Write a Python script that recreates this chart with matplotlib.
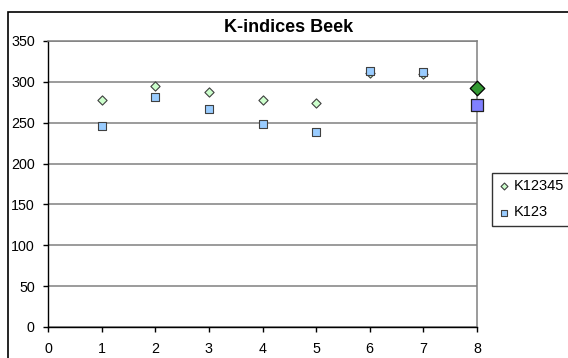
import matplotlib
matplotlib.use("Agg")
import matplotlib.pyplot as plt
from matplotlib.patches import Rectangle

plt.rcParams['font.family'] = ['Liberation Sans', 'DejaVu Sans']

x = [1, 2, 3, 4, 5, 6, 7, 8]
k12345 = [278, 295, 288, 278, 274, 311, 310, 292]
k123 = [246, 282, 267, 249, 239, 313, 312, 272]
yticks = [0, 50, 100, 150, 200, 250, 300, 350]
xticks = [0, 1, 2, 3, 4, 5, 6, 7, 8]

W, H = 568, 358
fig = plt.figure(figsize=(W / 100, H / 100), dpi=100)

# outer chart frame (runs off the right and bottom edges)
fig.patches.append(Rectangle((8 / W, -0.1), 1.2, 1 - 12 / H + 0.1,
                             transform=fig.transFigure, fill=False,
                             edgecolor='black', linewidth=1.2))

left, top, right, bottom = 48, 41, 477, 327
ax = fig.add_axes([left / W, 1 - bottom / H, (right - left) / W, (bottom - top) / H])
ax.set_xlim(0, 8)
ax.set_ylim(0, 350)
ax.set_xticks(xticks)
ax.set_yticks(yticks)
ax.tick_params(labelsize=10.3, length=3.5, width=1, direction='out')
ax.tick_params(axis='x', pad=7)
ax.tick_params(axis='y', pad=6)
ax.yaxis.grid(True, color='#808080', linewidth=1.1)
ax.set_axisbelow(True)
for s in ('top', 'right'):
    ax.spines[s].set_color('#808080')
    ax.spines[s].set_linewidth(1.1)
for s in ('left', 'bottom'):
    ax.spines[s].set_color('black')
    ax.spines[s].set_linewidth(1)

ax.scatter(x[:-1], k12345[:-1], marker='D', s=22, facecolor='#CCFFCC',
           edgecolor='#404040', linewidth=0.8, zorder=3, label='K12345', clip_on=False)
ax.scatter(x[:-1], k123[:-1], marker='s', s=36, facecolor='#99CCFF',
           edgecolor='#404040', linewidth=0.8, zorder=3, label='K123', clip_on=False)
# latest reading highlighted
ax.scatter(x[-1:], k12345[-1:], marker='D', s=55, facecolor='#339933',
           edgecolor='black', linewidth=0.9, zorder=4, clip_on=False)
ax.scatter(x[-1:], k123[-1:], marker='s', s=80, facecolor='#8080FF',
           edgecolor='#202020', linewidth=0.9, zorder=4, clip_on=False)

fig.text(289 / W, 1 - 27 / H, 'K-indices Beek', ha='center', va='center',
         fontsize=13, fontweight='bold')

leg = ax.legend(loc='upper left', bbox_to_anchor=(492 / W, 1 - 172.5 / H),
                bbox_transform=fig.transFigure, frameon=True, fancybox=False,
                fontsize=10.5, handlelength=0.7, handletextpad=0.35,
                borderpad=0.45, labelspacing=0.85, borderaxespad=0,
                markerscale=0.75)
leg.get_frame().set_edgecolor('black')
leg.get_frame().set_linewidth(1)

fig.savefig('out.png', dpi=100)
